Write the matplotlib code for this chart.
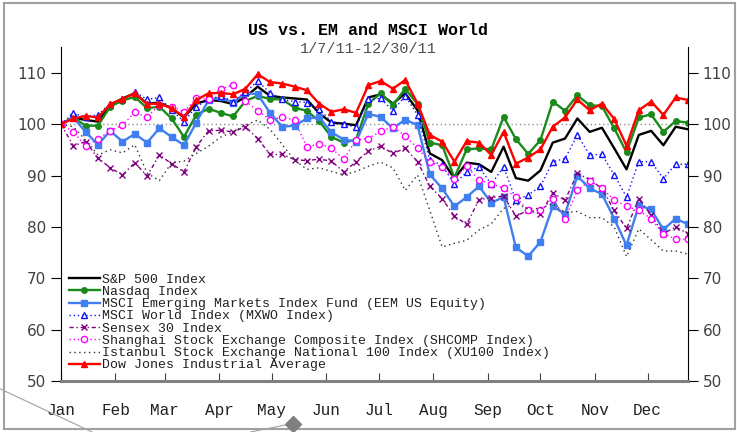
import matplotlib
matplotlib.use('Agg')
import matplotlib.pyplot as plt
from matplotlib.lines import Line2D
from matplotlib.patches import Rectangle
import pandas as pd

# weekly closes, rebased to 100 on 1/7/11
dates = pd.date_range('2011-01-07', periods=52, freq='7D')
month_ticks = pd.date_range('2011-01-07', periods=12, freq=pd.DateOffset(months=1))
month_labels = ['Jan', 'Feb', 'Mar', 'Apr', 'May', 'Jun',
                'Jul', 'Aug', 'Sep', 'Oct', 'Nov', 'Dec']

sp500 = [100, 101.3, 100.8, 100.5, 103.7, 105.0, 106.0, 104.0, 104.2, 103.1, 101.3, 104.0, 104.7,
         104.5, 103.9, 105.3, 107.3, 105.5, 105.2, 105.0, 104.8, 102.1, 100.3, 100.1, 99.8, 105.2,
         105.8, 104.0, 106.0, 102.7, 94.3, 93.0, 89.4, 92.5, 92.2, 90.7, 95.6, 89.5, 89.0,
         91.0, 96.4, 97.2, 101.1, 98.5, 99.3, 95.3, 91.2, 97.9, 98.7, 95.9, 99.5, 99.0]
nasdaq = [100, 101.3, 99.7, 99.7, 103.4, 104.6, 105.3, 103.1, 103.4, 101.1, 97.5, 101.8, 103.0,
          102.2, 101.5, 104.5, 105.5, 104.9, 104.8, 103.2, 102.6, 100.6, 97.5, 96.4, 97.0, 104.0,
          106.0, 103.7, 106.9, 103.9, 96.4, 95.9, 89.6, 95.1, 95.3, 95.1, 101.4, 97.1, 94.2,
          96.9, 104.4, 102.6, 105.6, 103.7, 103.5, 99.2, 94.5, 101.3, 101.9, 98.5, 100.6, 100.3]
msci_em = [100, 101.3, 98.5, 96.0, 98.7, 96.6, 98.1, 96.4, 99.2, 97.5, 95.9, 100.3, 104.7,
           105.2, 104.2, 106.1, 105.8, 102.2, 99.5, 99.7, 101.1, 101.3, 98.4, 97.0, 96.6, 102.0,
           101.4, 99.2, 100.9, 99.8, 90.2, 87.5, 84.0, 85.8, 87.9, 84.7, 85.8, 76.0, 74.3,
           77.1, 84.0, 82.5, 89.9, 87.5, 86.4, 81.6, 76.4, 84.2, 83.4, 79.5, 81.6, 80.5]
msci_world = [100, 102.1, 101.4, 101.8, 104.0, 104.8, 106.3, 104.8, 105.2, 102.7, 100.5, 103.4, 104.8,
              105.5, 104.4, 106.2, 108.4, 106.1, 104.8, 104.4, 104.2, 102.9, 100.5, 100.0, 99.4, 104.9,
              105.0, 102.6, 105.5, 101.8, 93.0, 92.0, 88.3, 90.7, 91.7, 88.3, 91.7, 85.2, 86.2,
              87.9, 92.7, 93.3, 97.9, 94.0, 94.1, 90.1, 85.8, 92.7, 92.7, 89.4, 92.2, 92.2]
sensex = [100, 95.8, 96.6, 93.4, 91.5, 90.1, 92.5, 89.9, 94.0, 92.3, 90.7, 95.6, 98.7,
          98.8, 98.5, 99.5, 97.2, 94.1, 94.1, 93.1, 92.9, 93.2, 92.8, 90.7, 92.7, 94.8,
          95.7, 94.3, 95.3, 92.7, 87.9, 85.5, 82.1, 80.5, 85.3, 85.7, 86.0, 82.1, 83.2,
          82.5, 86.6, 85.2, 90.4, 89.2, 87.5, 83.2, 79.7, 85.5, 82.3, 78.7, 80.0, 78.7]
shanghai = [100, 98.5, 95.7, 97.1, 98.7, 99.8, 102.3, 101.4, 103.7, 103.4, 102.4, 105.0, 104.9,
            106.9, 107.6, 104.5, 102.6, 100.9, 101.3, 100.8, 95.5, 96.2, 95.3, 93.2, 96.9, 97.2,
            98.6, 99.5, 97.7, 95.3, 92.7, 91.6, 89.4, 91.8, 89.1, 88.4, 87.5, 85.8, 83.2,
            83.2, 85.5, 81.6, 87.1, 89.0, 87.5, 85.3, 84.0, 83.2, 81.6, 78.6, 77.7, 77.6]
istanbul = [100, 99.5, 96.9, 94.0, 95.0, 94.4, 96.0, 90.5, 89.0, 92.5, 92.8, 94.3, 95.7,
            97.5, 98.5, 99.8, 100.8, 99.0, 96.0, 93.0, 91.2, 91.5, 90.8, 90.1, 90.8, 91.8,
            92.6, 91.5, 87.1, 90.1, 83.2, 76.1, 76.8, 77.4, 79.4, 80.6, 83.6, 84.5, 83.5,
            83.6, 84.5, 82.8, 83.0, 81.8, 81.8, 80.0, 74.2, 79.6, 77.5, 75.3, 75.3, 74.7]
dow = [100, 101.1, 101.6, 101.3, 103.9, 104.9, 106.0, 103.9, 104.0, 103.1, 101.4, 104.7, 106.0,
       106.1, 105.8, 106.9, 109.7, 108.2, 107.9, 107.3, 106.6, 104.0, 102.4, 102.9, 102.2, 107.6,
       108.4, 106.9, 108.6, 104.0, 97.9, 96.6, 92.7, 96.7, 96.4, 94.0, 98.5, 92.3, 93.5,
       95.1, 99.5, 101.3, 104.8, 102.7, 104.0, 101.0, 95.8, 102.7, 104.4, 101.8, 105.2, 104.7]

mono = 'Liberation Mono'

fig = plt.figure(figsize=(7.37, 4.32), dpi=100)
ax = fig.add_axes([0.0828, 0.118, 0.8507, 0.773])

ax.axhline(100, color='#909090', lw=1, ls=(0, (1, 2)), zorder=1)

ax.plot(dates, sp500, color='black', lw=1.7, label='S&P 500 Index')
ax.plot(dates, nasdaq, color='#1a8a1a', lw=1.7, marker='o', ms=4, label='Nasdaq Index')
ax.plot(dates, msci_em, color='#3f7ff0', lw=1.7, marker='s', ms=4.5,
        label='MSCI Emerging Markets Index Fund (EEM US Equity)')
ax.plot(dates, msci_world, color='#1010ff', lw=1, ls=(0, (1, 2)), marker='^', ms=5,
        mfc='white', mew=1, label='MSCI World Index (MXWO Index)')
ax.plot(dates, sensex, color='#800080', lw=1, ls=(0, (3, 2, 1, 2)), marker='x', ms=5,
        mew=1, label='Sensex 30 Index')
ax.plot(dates, shanghai, color='#ff00ff', lw=1, ls=(0, (1, 2)), marker='o', ms=4.5,
        mfc='white', mew=1, label='Shanghai Stock Exchange Composite Index (SHCOMP Index)')
ax.plot(dates, istanbul, color='#303030', lw=1, ls=(0, (1, 2.5)),
        label='Istanbul Stock Exchange National 100 Index (XU100 Index)')
ax.plot(dates, dow, color='#ff0000', lw=1.7, marker='^', ms=5, label='Dow Jones Industrial Average')

ax.set_xlim(dates[0], dates[-1])
ax.set_ylim(50, 115)
ax.set_yticks([50, 60, 70, 80, 90, 100, 110])
ax.set_xticks(month_ticks)
ax.set_xticklabels(month_labels, family=mono, fontsize=11.5, color='#202020')
ax.tick_params(axis='x', direction='in', length=6, pad=16, color='#404040')
ax.tick_params(axis='y', direction='out', length=7, labelsize=11, labelcolor='#404040',
               right=True, labelright=True)
ax.spines['top'].set_visible(False)
ax.spines['bottom'].set_color('#808080')
ax.spines['bottom'].set_linewidth(2.2)

leg = ax.legend(loc='upper left', bbox_to_anchor=(0.012, 0.322), frameon=False,
                prop={'family': mono, 'size': 9.5}, labelspacing=0.0, handlelength=2.4,
                handletextpad=0.15, borderpad=0, borderaxespad=0)
for t in leg.get_texts():
    t.set_color('#202020')

fig.text(0.5, 0.918, 'US vs. EM and MSCI World', ha='center', family=mono,
         fontsize=12, fontweight='bold')
fig.text(0.5, 0.877, '1/7/11-12/30/11', ha='center', family=mono, fontsize=11, color='#505050')

# screenshot frame and stray connector
fig.patches.append(Rectangle((0.006, 0.008), 0.991, 0.985, transform=fig.transFigure,
                             fill=False, ec='#a0a0a0', lw=1.5))
fig.lines.append(Line2D([0.0, 0.125], [0.1, 0.0], transform=fig.transFigure,
                        color='#a0a0a0', lw=0.8))
fig.lines.append(Line2D([0.34, 0.398], [0.0, 0.02], transform=fig.transFigure,
                        color='#a0a0a0', lw=0.8))
fig.lines.append(Line2D([0.398], [0.018], transform=fig.transFigure, marker='D', ms=8,
                        color='#808080'))

fig.savefig('out.png', dpi=100)
